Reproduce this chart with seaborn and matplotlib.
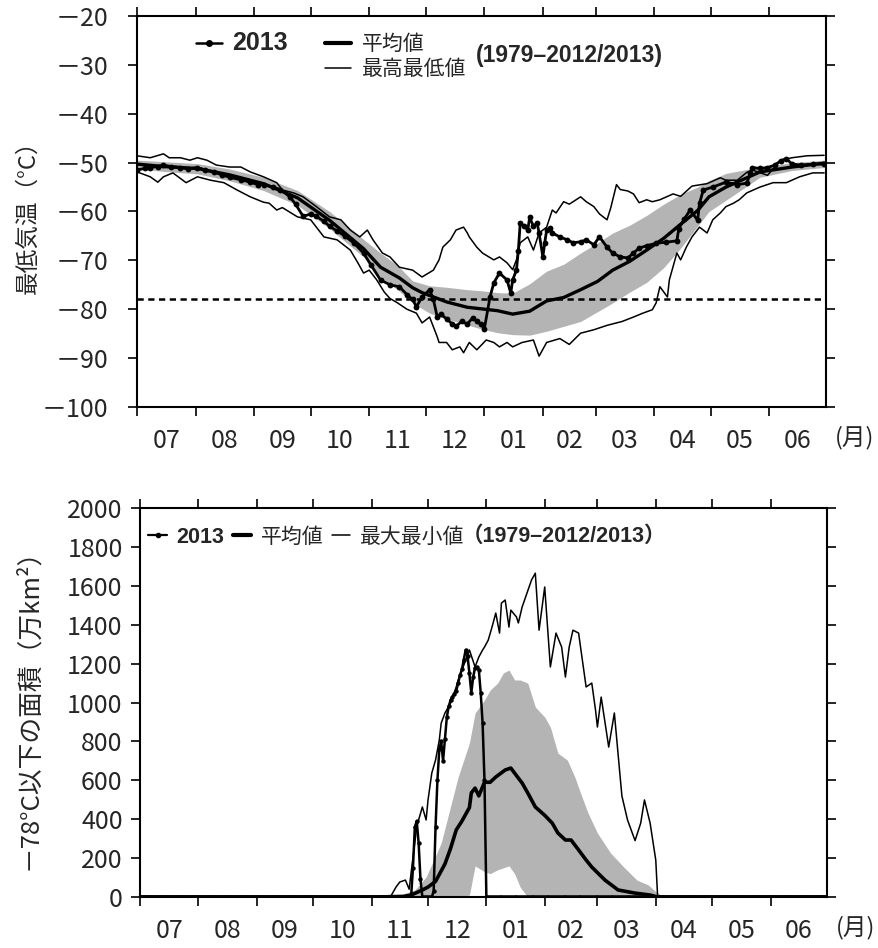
import numpy as np
import seaborn as sns
import matplotlib.pyplot as plt
from matplotlib.lines import Line2D
from matplotlib.ticker import FixedLocator, FixedFormatter, FuncFormatter, NullFormatter

sns.set_theme(style="ticks")
plt.rcParams["font.family"] = ["Noto Sans CJK JP", "DejaVu Sans"]

# x axis: days counted from 1 July
month_start = [0, 31, 62, 92, 123, 153, 184, 215, 243, 274, 304, 335]
month_mid = [15.5, 46.5, 77, 107.5, 138, 168.5, 199.5, 229, 258.5, 289, 319.5, 350]
month_labels = ["07", "08", "09", "10", "11", "12", "01", "02", "03", "04", "05", "06"]

# ---- top panel: minimum temperature (deg C) ----
threshold = -78

mean_day = [0, 14, 32, 49, 67, 85, 102, 120, 129, 139, 146, 151, 164, 175, 182, 191, 199, 208, 217,
            226, 235, 244, 252, 261, 270, 279, 288, 297, 303, 312, 330, 347, 364]
mean_t = [-50.3, -50.8, -51.2, -52.5, -54.3, -57.2, -61.8, -67.6, -71.4, -73.6, -75.6, -76.6, -78.5,
          -79.6, -79.9, -80.3, -81.0, -80.4, -78.3, -77.6, -76.0, -74.3, -72.0, -70.2, -67.9, -65.5,
          -62.6, -59.8, -57.0, -55.0, -51.9, -50.9, -50.1]

band_day = [0, 14, 32, 49, 67, 85, 102, 120, 129, 138, 146, 155, 164, 175, 182, 191, 199, 208, 217,
            226, 235, 244, 252, 261, 270, 279, 288, 297, 303, 312, 330, 347, 364]
band_hi = [-49.5, -49.8, -50.2, -51.3, -53.0, -55.7, -60.0, -65.7, -68.5, -71.0, -74.2, -75.2, -75.5,
           -76.0, -76.2, -76.6, -76.7, -74.8, -72.2, -70.8, -68.5, -66.4, -64.4, -62.8, -60.8, -58.5,
           -56.5, -55.0, -53.7, -52.2, -50.9, -50.0, -49.5]
band_lo = [-51.2, -51.8, -52.3, -53.7, -55.7, -58.7, -63.5, -69.3, -73.4, -76.0, -78.7, -80.8, -82.0,
           -83.2, -84.0, -84.8, -85.2, -85.3, -84.5, -83.5, -82.5, -80.5, -78.7, -76.5, -74.5, -71.5,
           -67.5, -63.0, -60.0, -57.7, -53.0, -51.6, -51.0]

tmax_day = [0, 7, 14, 17, 23, 28, 32, 37, 42, 49, 55, 60, 67, 74, 77, 83, 88, 95, 102, 108, 113, 118,
            122, 125, 130, 134, 139, 146, 151, 157, 160, 162, 166, 169, 173, 175, 176, 180, 183, 189,
            192, 196, 199, 201, 203, 207, 210, 213, 217, 220, 222, 226, 229, 235, 238, 242, 245, 249,
            251, 254, 256, 260, 263, 266, 270, 273, 277, 284, 288, 294, 302, 309, 312, 318, 323, 326,
            334, 341, 347, 355, 364]
tmax = [-48.6, -49.0, -48.2, -49.0, -49.0, -49.5, -49.0, -49.5, -50.5, -50.9, -50.9, -51.9, -52.9,
        -54.1, -55.6, -56.2, -57.0, -59.0, -61.1, -61.7, -63.8, -65.2, -63.8, -65.8, -68.5, -69.3,
        -71.4, -72.0, -73.4, -72.0, -69.9, -67.3, -65.8, -63.8, -63.2, -64.4, -65.2, -67.3, -68.5,
        -69.9, -69.3, -70.5, -71.9, -69.9, -66.4, -65.2, -67.9, -64.4, -63.2, -59.7, -60.3, -58.0,
        -58.5, -57.0, -58.0, -59.0, -60.5, -61.7, -59.2, -54.5, -55.5, -55.8, -56.4, -58.2, -57.6,
        -58.0, -57.6, -56.4, -56.9, -54.8, -54.3, -53.1, -53.6, -53.6, -52.0, -51.5, -52.6, -49.5,
        -49.0, -48.6, -48.5]

tmin_day = [0, 7, 11, 14, 19, 26, 32, 39, 46, 53, 60, 67, 70, 74, 77, 85, 92, 95, 99, 106, 113, 117,
            120, 123, 127, 131, 134, 138, 143, 148, 151, 155, 157, 159, 160, 164, 167, 171, 173, 176,
            180, 185, 189, 192, 196, 199, 204, 210, 213, 217, 224, 229, 235, 242, 249, 252, 257, 263,
            268, 273, 275, 277, 281, 282, 286, 288, 291, 294, 298, 302, 305, 309, 312, 316, 319, 323,
            330, 337, 344, 351, 358, 364]
tmin = [-51.9, -52.9, -54.0, -52.9, -52.1, -54.1, -52.9, -53.6, -54.1, -55.6, -57.0, -58.1, -58.3,
        -59.7, -59.2, -61.1, -61.7, -63.2, -65.2, -65.8, -67.9, -70.5, -72.6, -72.0, -74.0, -76.5,
        -77.8, -78.7, -80.0, -80.8, -82.8, -81.6, -83.6, -85.6, -86.8, -86.8, -88.3, -87.7, -88.9,
        -86.8, -88.3, -86.3, -86.8, -87.7, -86.8, -87.7, -86.8, -86.3, -89.6, -86.8, -86.0, -87.2,
        -84.9, -84.2, -83.3, -83.0, -82.5, -81.6, -80.8, -80.1, -78.7, -75.4, -77.5, -74.0, -68.5,
        -69.9, -67.3, -65.2, -63.2, -64.4, -61.7, -60.3, -59.0, -58.3, -57.6, -56.2, -55.0, -54.1,
        -54.1, -52.9, -52.1, -52.1]

y13_day = [0, 4, 7, 11, 14, 18, 23, 27, 32, 36, 41, 45, 49, 55, 60, 64, 67, 72, 76, 81, 84, 88, 92,
           95, 99, 102, 106, 110, 115, 120, 124, 129, 134, 139, 143, 146, 148, 151, 155, 157, 159,
           161, 164, 167, 169, 172, 175, 178, 180, 182, 184, 187, 189, 192, 196, 198, 199, 201, 202,
           203, 205, 207, 208, 210, 212, 213, 215, 216, 217, 219, 220, 224, 228, 231, 235, 238, 242,
           245, 249, 252, 256, 260, 263, 266, 270, 275, 280, 286, 287, 290, 293, 297, 298, 300, 305,
           312, 318, 323, 325, 326, 330, 334, 338, 341, 344, 347, 352, 358, 364]
y13_t = [-51.5, -51.2, -51.0, -50.8, -50.5, -50.8, -51.0, -51.3, -51.0, -51.5, -52.0, -52.5, -53.0,
         -53.5, -54.0, -54.5, -54.5, -55.0, -55.5, -57.0, -58.5, -61.0, -60.5, -61.0, -62.0, -63.0,
         -64.0, -65.0, -66.5, -68.5, -71.0, -74.0, -75.0, -75.4, -77.0, -78.0, -79.5, -77.5, -76.0,
         -78.0, -81.5, -81.0, -82.0, -83.0, -83.5, -82.5, -83.0, -81.7, -82.5, -83.0, -84.0, -77.5,
         -74.6, -72.6, -74.0, -76.7, -74.0, -72.0, -68.0, -62.4, -63.0, -63.8, -61.2, -63.0, -62.4,
         -64.4, -69.3, -66.4, -63.8, -63.4, -64.4, -65.2, -65.8, -66.4, -66.2, -65.8, -66.8, -65.2,
         -67.3, -68.5, -69.3, -69.5, -68.5, -67.5, -67.0, -66.5, -66.3, -66.0, -63.5, -61.5, -59.7,
         -61.8, -58.3, -55.6, -55.0, -54.0, -54.5, -54.2, -52.2, -51.0, -51.2, -51.0, -50.5, -49.6,
         -49.2, -50.3, -50.5, -50.3, -50.3]

# ---- bottom panel: area below -78 C (10^4 km2) ----
b_mean_day = [0, 125, 140, 144, 150, 153, 157, 162, 165, 168, 171, 175, 176, 178, 180, 183, 186, 189,
              194, 197, 199, 203, 206, 210, 215, 219, 222, 226, 229, 233, 237, 240, 247, 254, 263, 271,
              275, 364]
b_mean = [0, 0, 3, 10, 36, 51, 80, 170, 250, 345, 390, 460, 535, 560, 520, 590, 590, 617, 653, 663,
          637, 586, 535, 463, 420, 380, 329, 293, 293, 242, 190, 154, 87, 36, 20, 10, 0, 0]

b_band_day = [0, 135, 146, 152, 160, 169, 175, 178, 183, 186, 190, 193, 196, 199, 202, 206, 210, 215,
              218, 222, 227, 231, 234, 238, 243, 250, 257, 264, 270, 273, 278, 364]
b_band_hi = [0, 0, 36, 103, 278, 617, 792, 946, 1013, 1064, 1100, 1152, 1167, 1116, 1116, 1100, 977,
             925, 874, 740, 704, 617, 535, 432, 329, 226, 154, 87, 62, 36, 0, 0]
b_band_lo = [0, 0, 0, 0, 0, 0, 10, 160, 130, 120, 140, 150, 160, 120, 50, 0, 0, 0, 0, 0, 0, 0, 0, 0, 0,
             0, 0, 0, 0, 0, 0, 0]

b_max_day = [0, 133, 136, 138, 141, 143, 144, 147, 148, 150, 152, 153, 155, 157, 159, 160, 162, 165,
             168, 169, 173, 175, 178, 180, 182, 183, 185, 187, 189, 191, 192, 194, 196, 197, 200, 201,
             203, 208, 210, 212, 215, 218, 221, 224, 226, 228, 230, 233, 237, 240, 242, 243, 245, 249,
             252, 256, 259, 263, 266, 268, 271, 274, 275, 364]
b_max = [0, 0, 51, 77, 87, 40, 123, 360, 396, 463, 396, 498, 637, 704, 807, 894, 946, 997, 1080, 1115,
         1218, 1270, 1183, 1234, 1270, 1285, 1321, 1388, 1460, 1357, 1511, 1527, 1388, 1475, 1440,
         1409, 1491, 1630, 1665, 1372, 1594, 1183, 1357, 1285, 1131, 1285, 1372, 1357, 1080, 1100,
         961, 874, 1028, 771, 946, 520, 396, 290, 380, 499, 380, 190, 0, 0]

b_min_day = [0, 364]
b_min = [0, 0]

# 2013: zero outside the event, daily readings from day 145 to 183
b13_event = [150, 360, 390, 280, 90, 0, 0, 0, 0, 0, 0, 30, 360, 600, 760, 800, 700, 810, 925, 980,
             1013, 1030, 1045, 1060, 1100, 1140, 1170, 1220, 1270, 1240, 1150, 1049, 1131, 1180, 1182,
             1167, 1049, 895, 600]
b13_day = np.arange(365)
b13 = np.zeros(365)
b13[145:145 + len(b13_event)] = b13_event

band_color = "#b4b4b4"
tick_font = ["Noto Sans CJK JP", "DejaVu Sans"]
bold_font = ["Liberation Sans", "Noto Sans CJK JP"]


def neg_fmt(v, pos):
    return "\uff0d%d" % abs(v) if v < 0 else "%d" % v


def style_axis(ax):
    ax.set_xlim(0, 365)
    for s in ax.spines.values():
        s.set_linewidth(1.5)
        s.set_color("black")
    ax.xaxis.set_major_locator(FixedLocator(month_start))
    ax.xaxis.set_major_formatter(NullFormatter())
    ax.xaxis.set_minor_locator(FixedLocator(month_mid))
    ax.xaxis.set_minor_formatter(FixedFormatter(month_labels))
    ax.tick_params(axis="both", which="major", direction="out", length=6.5, width=1.2,
                   color="black", top=True, right=True, labeltop=False, labelright=False)
    ax.tick_params(axis="x", which="minor", length=0, pad=15, labelsize=18)
    ax.tick_params(axis="y", which="major", labelsize=18)
    for lab in ax.get_xticklabels(minor=True) + ax.get_yticklabels():
        lab.set_family(tick_font)
    ax.set_xlabel("")
    ax.text(1.042, -0.078, "(月)", transform=ax.transAxes, ha="center", va="center",
            fontsize=17, family=tick_font)


fig = plt.figure(figsize=(8.79, 9.48), dpi=100)
ax1 = fig.add_axes([0.1559, 0.5707, 0.7838, 0.4124])
ax2 = fig.add_axes([0.1593, 0.0538, 0.7816, 0.4103])

# ---------- top ----------
ax1.fill_between(band_day, band_lo, band_hi, color=band_color, lw=0, zorder=1)
sns.lineplot(x=tmax_day, y=tmax, ax=ax1, color="black", linewidth=1.1, zorder=2)
sns.lineplot(x=tmin_day, y=tmin, ax=ax1, color="black", linewidth=1.1, zorder=2)
ax1.axhline(threshold, color="black", lw=1.8, ls=(0, (2.5, 1.8)), zorder=2)
sns.lineplot(x=mean_day, y=mean_t, ax=ax1, color="black", linewidth=2.4, zorder=3)
sns.lineplot(x=y13_day, y=y13_t, ax=ax1, color="black", linewidth=2.0, marker="o",
             markersize=4.2, markeredgewidth=0, zorder=4)
ax1.set_ylim(-100, -20)
ax1.yaxis.set_major_locator(FixedLocator(np.arange(-100, -19, 10)))
ax1.yaxis.set_major_formatter(FuncFormatter(neg_fmt))
ax1.tick_params(axis="y", pad=14)
style_axis(ax1)
ax1.set_ylabel("最低気温（°C）", fontsize=17, family=tick_font)
ax1.yaxis.set_label_coords(-0.141, 0.5)

h13 = Line2D([], [], color="black", lw=1.8, marker="o", ms=4)
hblank = Line2D([], [], color="none")
hmean = Line2D([], [], color="black", lw=3)
hthin = Line2D([], [], color="black", lw=1.1)
leg1 = ax1.legend([h13, hblank, hmean, hthin], ["2013", " ", "平均値", "最高最低値"], ncol=2,
                  loc="upper left", bbox_to_anchor=(0.085, 0.962), frameon=False, fontsize=15,
                  handlelength=1.25, handletextpad=0.5, columnspacing=1.8, labelspacing=0.15,
                  borderpad=0, borderaxespad=0)
for t in leg1.get_texts():
    t.set_family(tick_font)
leg1.get_texts()[0].set_family(bold_font)
leg1.get_texts()[0].set_fontweight("bold")
leg1.get_texts()[0].set_fontsize(18)
ax1.annotate("(1979–2012/2013)", xy=(1, 0.5), xycoords=leg1.get_texts()[3], xytext=(7, 10),
             textcoords="offset points", ha="left", va="center", fontsize=16.5,
             fontweight="bold", family=bold_font)

# ---------- bottom ----------
ax2.fill_between(b_band_day, b_band_lo, b_band_hi, color=band_color, lw=0, zorder=1)
sns.lineplot(x=b_max_day, y=b_max, ax=ax2, color="black", linewidth=1.1, zorder=2)
sns.lineplot(x=b_min_day, y=b_min, ax=ax2, color="black", linewidth=1.1, zorder=2)
sns.lineplot(x=b_mean_day, y=b_mean, ax=ax2, color="black", linewidth=2.6, zorder=3)
sns.lineplot(x=b13_day, y=b13, ax=ax2, color="black", linewidth=1.8, marker="o",
             markersize=3.2, markeredgewidth=0, zorder=4)
ax2.set_ylim(0, 2000)
ax2.yaxis.set_major_locator(FixedLocator(np.arange(0, 2001, 200)))
ax2.yaxis.set_major_formatter(FuncFormatter(neg_fmt))
ax2.tick_params(axis="y", pad=6)
style_axis(ax2)
ax2.set_ylabel("\uff0d78°C以下の面積（万km²）", fontsize=18.5, family=tick_font)
ax2.yaxis.set_label_coords(-0.143, 0.5)

hb13 = Line2D([], [], color="black", lw=1.6, marker="o", ms=3)
hbmean = Line2D([], [], color="black", lw=3)
hbthin = Line2D([], [], color="black", lw=1.1)
leg2 = ax2.legend([hb13, hbmean, hbthin], ["2013", "平均値", "最大最小値"], ncol=3,
                  loc="upper left", bbox_to_anchor=(0.012, 0.955), frameon=False, fontsize=15,
                  handlelength=0.9, handletextpad=0.45, columnspacing=0.4, borderpad=0,
                  borderaxespad=0)
for t in leg2.get_texts():
    t.set_family(tick_font)
leg2.get_texts()[0].set_family(bold_font)
leg2.get_texts()[0].set_fontweight("bold")
leg2.get_texts()[0].set_fontsize(15.5)
ax2.annotate("（1979–2012/2013）", xy=(1, 0.5), xycoords=leg2.get_texts()[2], xytext=(-2, 0),
             textcoords="offset points", ha="left", va="center", fontsize=15.5,
             fontweight="bold", family=bold_font)

fig.canvas.draw()
fig.savefig("out.png", dpi=100)
